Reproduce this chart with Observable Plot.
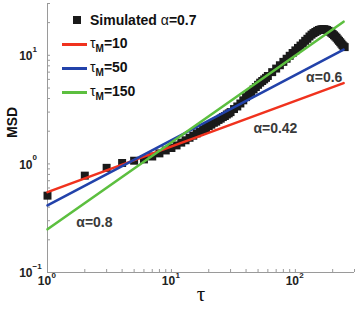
<!DOCTYPE html>
<html>
<head>
<meta charset="utf-8">
<script src="https://cdn.jsdelivr.net/npm/d3@7"></script>
<script src="https://cdn.jsdelivr.net/npm/@observablehq/plot@0.6"></script>
<style>
  body { margin: 0; background: #fff; }
  #chart { position: relative; width: 357px; height: 310px; font-family: "Liberation Sans", Arial, Helvetica, sans-serif; }
  #legend { position: absolute; left: 62px; top: 8px; font-weight: bold; font-size: 14px; color: #111; }
  #legend .row { display: flex; align-items: center; height: 24px; }
  #legend .sw { width: 28px; display: flex; align-items: center; }
  #legend .sq { width: 8px; height: 8px; background: #1a1a1a; margin-left: 11px; }
  #legend .ln { width: 25px; height: 3px; }
  #legend .tau { font-weight: normal; }
  #legend sub { font-size: 10px; vertical-align: -4px; }
</style>
</head>
<body>
<div id="chart"></div>
<script>
// Simulated mean squared displacement vs. lag time
const tau = [1, 2, 3, 4, 5, 6, 7, 8, 9, 10,
  11, 12, 13, 14, 15, 16, 17, 18, 19, 20, 21, 22, 23, 24, 25, 26, 27, 28, 29, 30,
  32, 34, 36, 38, 40, 42, 44, 46, 48, 50, 52, 54, 56, 58, 60,
  65, 70, 75, 80, 85, 90, 95, 100, 105, 110, 115, 120, 125, 130, 135, 140, 145, 150,
  155, 160, 165, 170, 175, 180, 185, 190, 195, 200, 205, 210, 215, 220, 225, 230, 235, 240, 245, 250];
const msd = [0.51, 0.78, 0.92, 1.02, 1.07, 1.10, 1.17, 1.25, 1.33, 1.40,
  1.48, 1.57, 1.65, 1.74, 1.82, 1.91, 1.98, 2.07, 2.14, 2.23, 2.30, 2.39, 2.45, 2.54, 2.61, 2.70, 2.76, 2.85, 2.92, 3.00,
  3.20, 3.38, 3.60, 3.85, 4.12, 4.35, 4.60, 4.85, 5.10, 5.35, 5.60, 5.80, 6.00, 6.20, 6.45,
  7.00, 7.55, 8.10, 8.70, 9.30, 9.90, 10.5, 11.1, 11.7, 12.3, 12.9, 13.6, 14.2, 14.9, 15.5, 16.0, 16.4, 16.8,
  17.1, 17.3, 17.4, 17.4, 17.3, 17.1, 16.8, 16.5, 16.1, 15.7, 15.3, 14.9, 14.5, 14.0, 13.6, 13.2, 12.8, 12.4, 12.1, 11.9];

// Power-law fits MSD = A * tau^alpha, one per memory time tau_M
const fitNames = ["τM=10", "τM=50", "τM=150"];
const fitAlpha = [0.42, 0.6, 0.8];
const fitPrefactor = [0.55, 0.415, 0.25];
const fitColors = ["#f0321e", "#2242aa", "#5cbf3f"];
const fitRange = [1, 245];

// Slope annotations
const noteText = ["α=0.8", "α=0.42", "α=0.6"];
const noteTau = [2.39, 69, 171];
const noteMsd = [0.288, 2.12, 6.25];

// Axis ticks
const xDecades = [1, 10, 100];
const yDecades = [0.1, 1, 10];
const xMinor = [2, 3, 4, 5, 6, 7, 8, 9, 20, 30, 40, 50, 60, 70, 80, 90, 200, 300];
const yMinor = [0.2, 0.3, 0.4, 0.5, 0.6, 0.7, 0.8, 0.9, 2, 3, 4, 5, 6, 7, 8, 9, 20, 30];
const xExp = ["0", "1", "2"];
const yExp = ["−1", "0", "1"];

const sim = tau.map((t, i) => ({tau: t, msd: msd[i]}));
const fits = fitNames.flatMap((name, i) =>
  fitRange.map(t => ({name, tau: t, msd: fitPrefactor[i] * Math.pow(t, fitAlpha[i])})));
const notes = noteText.map((text, i) => ({text, tau: noteTau[i], msd: noteMsd[i]}));

const W = 357, H = 310, mL = 47, mR = 3, mT = 3, mB = 38;
const innerW = W - mL - mR, innerH = H - mT - mB;
const axisGray = "#9a9a9a";

const chart = Plot.plot({
  width: W, height: H,
  marginLeft: mL, marginRight: mR, marginTop: mT, marginBottom: mB,
  style: {fontFamily: "Liberation Sans, Arial, Helvetica, sans-serif", background: "#fff"},
  x: {type: "log", domain: [1, 300], axis: null},
  y: {type: "log", domain: [0.1, 30], axis: null},
  color: {domain: fitNames, range: fitColors},
  marks: [
    // axis lines
    Plot.ruleY([0.1], {stroke: axisGray}),
    Plot.ruleX([1], {stroke: axisGray}),
    // inward ticks
    Plot.ruleX(xDecades.concat(xMinor), {x: d => d, insetTop: innerH - 3, stroke: axisGray}),
    Plot.ruleY(yDecades.concat(yMinor), {y: d => d, insetRight: innerW - 3, stroke: axisGray}),
    // tick labels: base and exponent
    Plot.text(xDecades, {x: d => d, frameAnchor: "bottom", dy: 12, dx: -3, text: () => "10",
      fontSize: 12, fontWeight: "bold", fill: "#222"}),
    Plot.text(xDecades, {x: d => d, frameAnchor: "bottom", dy: 5, dx: 4, text: (d, i) => xExp[i],
      textAnchor: "start", fontSize: 8, fontWeight: "bold", fill: "#222"}),
    Plot.text(yDecades, {y: d => d, frameAnchor: "left", dx: -15, dy: 1, text: () => "10",
      textAnchor: "end", fontSize: 12, fontWeight: "bold", fill: "#222"}),
    Plot.text(yDecades, {y: d => d, frameAnchor: "left", dx: -15, dy: -6, text: (d, i) => yExp[i],
      textAnchor: "start", fontSize: 8, fontWeight: "bold", fill: "#222"}),
    // axis titles
    Plot.text(["MSD"], {frameAnchor: "left", dx: -35, rotate: -90, text: d => d,
      fontSize: 14, fontWeight: "bold", fill: "#111"}),
    Plot.text(["τ"], {frameAnchor: "bottom", dy: 28, text: d => d,
      fontSize: 21, fontFamily: "Liberation Serif, Times New Roman, serif", fill: "#111"}),
    // simulated data
    Plot.dot(sim, {x: "tau", y: "msd", symbol: "square", r: 4.5, fill: "#1a1a1a"}),
    // power-law fits
    Plot.line(fits, {x: "tau", y: "msd", z: "name", stroke: "name", strokeWidth: 2.6}),
    // slope annotations
    Plot.text(notes, {x: "tau", y: "msd", text: "text", fontSize: 14, fontWeight: "bold", fill: "#3a3a3a"})
  ]
});

const root = document.getElementById("chart");
root.appendChild(chart);

// legend drawn over the upper-left of the plot area
const legend = document.createElement("div");
legend.id = "legend";
let html = `<div class="row"><div class="sw"><div class="sq"></div></div><span>Simulated <span class="tau">α</span>=0.7</span></div>`;
fitNames.forEach((name, i) => {
  const value = name.split("=")[1];
  html += `<div class="row"><div class="sw"><div class="ln" style="background:${fitColors[i]}"></div></div>` +
    `<span><span class="tau">τ</span><sub>M</sub>=${value}</span></div>`;
});
legend.innerHTML = html;
root.appendChild(legend);
</script>
</body>
</html>
